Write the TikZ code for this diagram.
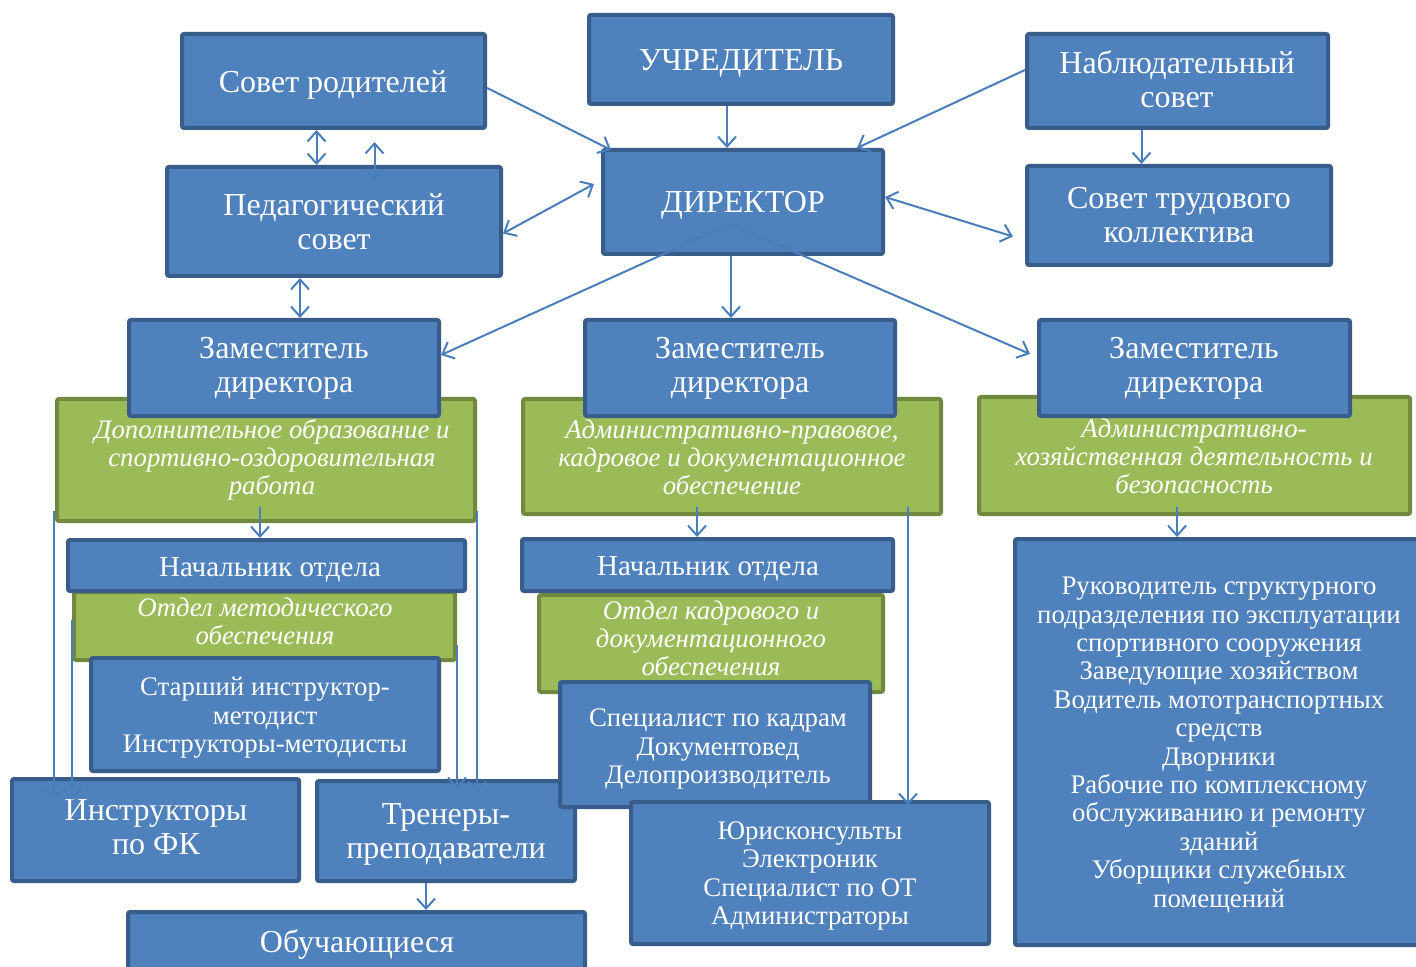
\documentclass[tikz,border=0pt]{standalone}
\usepackage{fontspec}
\setmainfont{Liberation Serif}
\usetikzlibrary{arrows.meta,calc}
\definecolor{bfill}{HTML}{4F81BD}
\definecolor{bdraw}{HTML}{385D8A}
\definecolor{gfill}{HTML}{9BBB59}
\definecolor{gdraw}{HTML}{71893F}
\definecolor{lcol}{HTML}{4A7EBB}
\tikzset{
 bbox/.style={draw=bdraw,fill=bfill,line width=2pt,rounded corners=1pt,inner sep=0pt},
 gbox/.style={draw=gdraw,fill=gfill,line width=2pt,rounded corners=1pt,inner sep=0pt},
 txt/.style={text=white,align=center,inner sep=0pt,yshift=-1.5pt},
 big/.style={txt,font=\fontsize{16}{17}\selectfont},
 small/.style={txt,font=\fontsize{13.4}{14.2}\selectfont},
 mid/.style={txt,font=\fontsize{14.5}{15}\selectfont},
 ital/.style={text=white,align=center,inner sep=0pt,font=\fontsize{13.4}{14}\selectfont\itshape},
 conn/.style={draw=lcol,line width=1pt},
 >={Straight Barb[length=5pt,width=9pt,line width=1pt]}
}
\newcommand\bx[6]{\node[#6,minimum width={(#4-#2-4)*0.5pt},minimum height={(#5-#3-4)*0.5pt}] (#1) at ({(#2+#4)/2},{(#3+#5)/2}) {};}
\begin{document}
\begin{tikzpicture}[x=0.5pt,y=-0.5pt]
\useasboundingbox[fill=white] (0,0) rectangle (1416,967);
% top row
\bx{roditeli}{180}{32}{487}{130}{bbox}
\bx{uchr}{587}{13}{895}{106}{bbox}
\bx{nabl}{1025}{32}{1330}{130}{bbox}
\bx{ped}{165}{165}{503}{278}{bbox}
\bx{director}{601}{148}{885}{256}{bbox}
\bx{trud}{1025}{164}{1333}{267}{bbox}
% deputies
\bx{greenL}{55}{397}{477}{523}{gbox}
\bx{zamL}{127}{318}{441}{418}{bbox}
\bx{greenC}{521}{397}{943}{516}{gbox}
\bx{zamC}{583}{318}{897}{418}{bbox}
\bx{greenR}{977}{395}{1412}{516}{gbox}
\bx{zamR}{1037}{318}{1352}{418}{bbox}
% left branch
\bx{otdL}{72}{590}{457}{662}{gbox}
\bx{nachL}{66}{538}{467}{593}{bbox}
\bx{starsh}{89}{656}{441}{773}{bbox}
\bx{instr}{10}{777}{301}{883}{bbox}
\bx{tren}{315}{779}{577}{883}{bbox}
\bx{obuch}{126}{910}{587}{980}{bbox}
% centre branch
\bx{otdC}{537}{593}{885}{694}{gbox}
\bx{nachC}{520}{537}{895}{593}{bbox}
\bx{spec}{558}{680}{872}{809}{bbox}
\bx{jur}{629}{800}{991}{946}{bbox}
% right branch
\bx{ruk}{1013}{537}{1424}{947}{bbox}

% texts
\node[big] (t-rod) at (333,82) {Совет родителей};
\node[big] (t-uchr) at (741,60) {УЧРЕДИТЕЛЬ};
\node[big] (t-nabl) at (1177,76) {Наблюдательный\\совет};
\node[big] (t-ped) at (334,219) {Педагогический\\совет};
\node[big] (t-dir) at (743,202) {ДИРЕКТОР};
\node[big] (t-trud) at (1179,212) {Совет трудового\\коллектива};
\node[big] (t-zamL) at (284,365) {Заместитель\\директора};
\node[big] (t-zamC) at (740,365) {Заместитель\\директора};
\node[big] (t-zamR) at (1194,365) {Заместитель\\директора};
\node[ital] (t-gL) at (272,460) {Дополнительное образование и\\спортивно-оздоровительная\\работа};
\node[ital] (t-gC) at (732,457) {Административно-правовое,\\кадровое и документационное\\обеспечение};
\node[ital] (t-gR) at (1194,456) {Административно-\\хозяйственная деятельность и\\безопасность};
\node[mid] (t-nachL) at (270,567) {Начальник отдела};
\node[ital] (t-otdL) at (265,621) {Отдел методического\\обеспечения};
\node[small] (t-starsh) at (265,715) {Старший инструктор-\\методист\\Инструкторы-методисты};
\node[big] (t-instr) at (156,824) {Инструкторы\\по ФК};
\node[big] (t-tren) at (446,831) {Тренеры-\\преподаватели};
\node[big] (t-obuch) at (357,941) {Обучающиеся};
\node[mid] (t-nachC) at (708,566) {Начальник отдела};
\node[ital] (t-otdC) at (711,638) {Отдел кадрового и\\документационного\\обеспечения};
\node[small] (t-spec) at (718,746) {Специалист по кадрам\\Документовед\\Делопроизводитель};
\node[small] (t-jur) at (810,873) {Юрисконсульты\\Электроник\\Специалист по ОТ\\Администраторы};
\node[small] (t-ruk) at (1219,742) {Руководитель структурного\\подразделения по эксплуатации\\спортивного сооружения\\Заведующие хозяйством\\Водитель мототранспортных\\средств\\Дворники\\Рабочие по комплексному\\обслуживанию и ремонту\\зданий\\Уборщики служебных\\помещений};

% connectors
\draw[conn,->] ([yshift=-3.5pt]roditeli.east) -- ([xshift=5pt,yshift=-1pt]director.north west);
\draw[conn,->] ([xshift=-7pt]uchr.south) -- ([xshift=-7pt]uchr.south |- director.north);
\draw[conn,->] ([yshift=5.5pt]nabl.west) -- ([xshift=-14pt]director.north east);
\draw[conn,->] ([xshift=-18pt]nabl.south) -- ([xshift=-18pt]nabl.south |- trud.north);
\draw[conn,<->] ([xshift=-8.5pt]roditeli.south) -- ([xshift=-8.5pt]roditeli.south |- ped.north);
\draw[conn,<->] ([xshift=20.5pt,yshift=-6pt]roditeli.south) -- ([xshift=20.5pt,yshift=-8pt]roditeli.south |- ped.north);
\draw[conn,<->] ([yshift=-6pt]ped.east) -- ([xshift=-3.5pt,yshift=9pt]director.west);
\draw[conn,<->] ([yshift=2.5pt]director.east) -- ([xshift=-6pt,yshift=-10.5pt]trud.west);
\draw[conn,<->] ([xshift=-17pt]ped.south) -- ([xshift=-17pt]ped.south |- zamL.north);
\draw[conn,->] ([xshift=-6.5pt,yshift=-11pt]director.center) -- ([yshift=6.5pt]zamL.east);
\draw[conn,->] ([xshift=-6.5pt,yshift=-11pt]director.center) -- ([xshift=-3.5pt,yshift=7pt]zamR.west);
\draw[conn,->] ([xshift=-6pt]director.south) -- ([xshift=-6pt]director.south |- zamC.north);
% left branch
\draw[conn,->] ([xshift=-3pt,yshift=8pt]greenL.south) -- ([xshift=-3pt]greenL.south |- nachL.north);
\draw[conn,->] ([xshift=-0.5pt,yshift=6pt]greenL.south west) -- ([xshift=-0.5pt,yshift=-11.5pt]greenL.south west |- instr.north);
\draw[conn,->] ([yshift=3pt]otdL.west) -- ([yshift=-11.5pt]otdL.west |- instr.north);
\draw[conn,->] ([yshift=-9.5pt]otdL.east) -- ([yshift=-5pt]otdL.east |- tren.north);
\draw[conn,->] ([yshift=6pt]greenL.south east) -- ([yshift=-7pt]greenL.south east |- tren.north);
\draw[conn,->] ([xshift=-10pt]tren.south) -- ([xshift=-10pt]tren.south |- obuch.north);
% centre branch
\draw[conn,->] ([xshift=-17.5pt,yshift=4.5pt]greenC.south) -- ([xshift=-17.5pt]greenC.south |- nachC.north);
\draw[conn,->] ([xshift=88pt,yshift=4.5pt]greenC.south) -- ([xshift=88pt,yshift=-2.5pt]greenC.south |- jur.north);
% right branch
\draw[conn,->] ([xshift=-8.75pt,yshift=4.5pt]greenR.south) -- ([xshift=-8.75pt]greenR.south |- ruk.north);
\end{tikzpicture}
\end{document}
